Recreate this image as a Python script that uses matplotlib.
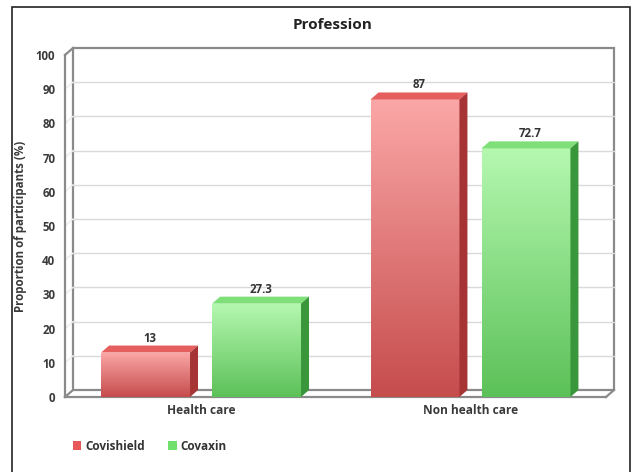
import matplotlib
matplotlib.use('Agg')
import matplotlib.pyplot as plt
import numpy as np
from matplotlib.patches import Polygon, Rectangle, Patch
from matplotlib.colors import LinearSegmentedColormap

plt.rcParams['font.family'] = ['Open Sans', 'DejaVu Sans']

categories = ['Health care', 'Non health care']
series = ['Covishield', 'Covaxin']
covishield = [13, 87]
covaxin = [27.3, 72.7]
value_labels = [['13', '87'], ['27.3', '72.7']]
yticks = [0, 10, 20, 30, 40, 50, 60, 70, 80, 90, 100]

# colours: (front top, front bottom, top face, side face, legend)
styles = {
    'Covishield': ('#fba7a7', '#c64c4c', '#e65f5f', '#a63434', '#e85858'),
    'Covaxin': ('#b5f8b0', '#5cc158', '#7fe079', '#3a963a', '#72e06c'),
}

W, H = 634, 472
fig = plt.figure(figsize=(W / 100, H / 100), dpi=100)
ax = fig.add_axes([65 / W, (H - 397) / H, 541 / W, (397 - 55) / H])
ax.patch.set_alpha(0)

xmin, xmax = -0.505, 1.503
ax.set_xlim(xmin, xmax)
ax.set_ylim(0, 100)

# 3d depth in data units (8 px right, 7 px up)
dx = 8 * (xmax - xmin) / 541
dy = 7 * 100 / 342

edge = '#8a8a8a'
# back wall
ax.add_patch(Rectangle((xmin + dx, dy), xmax - xmin, 100, facecolor='white',
                       edgecolor=edge, lw=1.6, zorder=1, clip_on=False))
for t in yticks[1:-1]:
    ax.plot([xmin + dx, xmax + dx], [t + dy, t + dy], color='#dadada', lw=1, zorder=1.5, clip_on=False)
    ax.plot([xmin, xmin + dx], [t, t + dy], color='#ececec', lw=1, zorder=1.5, clip_on=False)
# left wall and floor edges
ax.plot([xmin, xmin], [0, 100], color=edge, lw=1.6, zorder=2, clip_on=False)
ax.plot([xmin, xmin + dx], [100, 100 + dy], color=edge, lw=1.6, zorder=2, clip_on=False)
ax.plot([xmin, xmin + dx], [0, dy], color=edge, lw=1.6, zorder=2, clip_on=False)
ax.plot([xmin, xmax], [0, 0], color=edge, lw=1.6, zorder=2, clip_on=False)
ax.plot([xmax, xmax + dx], [0, dy], color=edge, lw=1.6, zorder=2, clip_on=False)

x = np.arange(len(categories))
width = 0.33
offsets = [-0.206, 0.206]
grad = np.linspace(1, 0, 256).reshape(-1, 1)

for k, (name, vals) in enumerate(zip(series, [covishield, covaxin])):
    c_top, c_bot, c_face, c_side, _ = styles[name]
    cmap = LinearSegmentedColormap.from_list(name, [c_bot, c_top])
    bars = ax.bar(x + offsets[k], vals, width, color='none', zorder=3)
    for j, b in enumerate(bars):
        x0, h = b.get_x(), b.get_height()
        x1 = x0 + b.get_width()
        im = ax.imshow(grad, extent=[x0, x1, 0, h], aspect='auto', cmap=cmap, zorder=3)
        im.set_clip_path(b)
        ax.add_patch(Polygon([(x0, h), (x1, h), (x1 + dx, h + dy), (x0 + dx, h + dy)],
                             closed=True, facecolor=c_face, edgecolor='none', zorder=3))
        ax.add_patch(Polygon([(x1, 0), (x1 + dx, dy), (x1 + dx, h + dy), (x1, h)],
                             closed=True, facecolor=c_side, edgecolor='none', zorder=3))
        ax.text(x0 + b.get_width() / 2 + dx / 2, h + dy + 0.3, value_labels[k][j],
                ha='center', va='bottom', fontsize=8.3, color='#333333', fontweight='bold')

ax.set_xlim(xmin, xmax)
ax.set_ylim(0, 100)

for s in ax.spines.values():
    s.set_visible(False)
ax.set_yticks(yticks)
ax.set_xticks(x)
ax.set_xticklabels(categories)
ax.tick_params(axis='both', length=0, labelsize=8.3, labelcolor='#3a3a3a')
ax.tick_params(axis='y', pad=7)
ax.tick_params(axis='x', pad=5)
for lab in ax.get_yticklabels() + ax.get_xticklabels():
    lab.set_fontweight('bold')
ax.set_xticklabels(categories, fontsize=8.6, fontweight='bold')
ax.set_ylabel('Proportion of participants (%)', fontsize=8.3, color='#3a3a3a', fontweight='bold')
ax.yaxis.set_label_coords((27 - 65) / 541, 0.5)

fig.text(333 / W, 1 - 25 / H, 'Profession', ha='center', va='center', fontsize=11,
         color='#222222', fontweight='bold')

handles = [Patch(facecolor=styles[n][4], edgecolor='none', label=n) for n in series]
leg = fig.legend(handles=handles, loc='center left', bbox_to_anchor=(62 / W, 1 - 446 / H), ncol=2,
                 frameon=False, fontsize=8.5, handlelength=0.7, handleheight=0.9, handletextpad=0.35,
                 columnspacing=2.0, labelcolor='#333333')
for t in leg.get_texts():
    t.set_fontweight('bold')

fig.add_artist(Rectangle((12 / W, -0.05), (630 - 12) / W, 1.05 - 7 / H, transform=fig.transFigure,
                         fill=False, edgecolor='#222222', lw=1.2))

fig.savefig('out.png', dpi=100)
